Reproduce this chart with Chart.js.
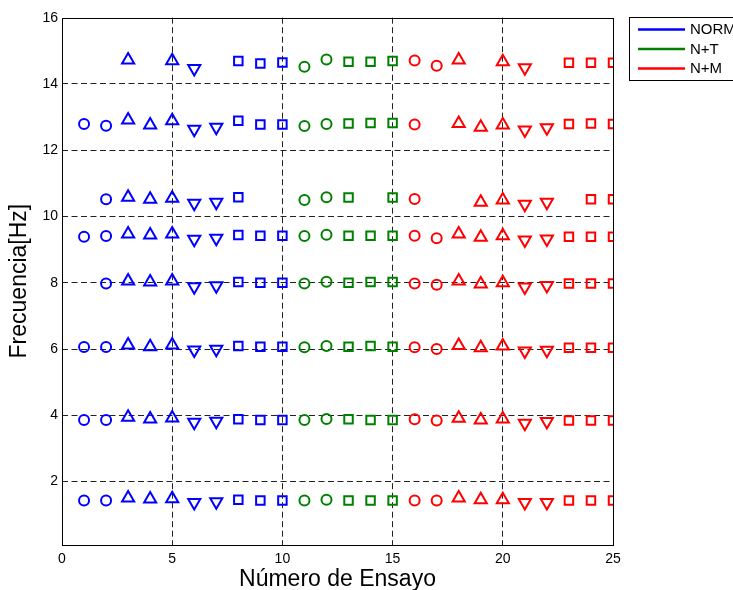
<!DOCTYPE html>
<html>
<head>
<meta charset="utf-8">
<script src="https://cdn.jsdelivr.net/npm/chart.js@4"></script>
<style>
  html, body { margin: 0; padding: 0; background: #fff; overflow: hidden; }
  #wrap { width: 733px; height: 590px; }
</style>
</head>
<body>
<div id="wrap"><canvas id="myChart" width="733" height="590"></canvas></div>
<script>
'use strict';

// numero de ensayo (eje x)
var ensayos = [1, 2, 3, 4, 5, 6, 7, 8, 9, 10, 11, 12, 13, 14, 15, 16, 17, 18, 19, 20, 21, 22, 23, 24, 25];

// series de la leyenda y a cual pertenece cada ensayo
var grupos = ['NORM', 'N+T', 'N+M'];
var grupoEnsayo = [0, 0, 0, 0, 0, 0, 0, 0, 0, 0, 1, 1, 1, 1, 1, 2, 2, 2, 2, 2, 2, 2, 2, 2, 2];

// marcador de cada ensayo
var marcadores = ['circle', 'circle', 'up', 'up', 'up', 'down', 'down', 'rect', 'rect', 'rect',
  'circle', 'circle', 'rect', 'rect', 'rect',
  'circle', 'circle', 'up', 'up', 'up', 'down', 'down', 'rect', 'rect', 'rect'];

// frecuencias [Hz] de cada modo, una por ensayo (null = no identificado)
var modo1 = [1.43, 1.43, 1.50, 1.47, 1.48, 1.37, 1.39, 1.45, 1.43, 1.43, 1.43, 1.45, 1.43, 1.43, 1.43, 1.43, 1.43, 1.50, 1.45, 1.45, 1.37, 1.37, 1.43, 1.43, 1.43];
var modo2 = [3.86, 3.86, 3.94, 3.89, 3.92, 3.79, 3.82, 3.88, 3.86, 3.86, 3.86, 3.89, 3.88, 3.86, 3.86, 3.88, 3.84, 3.91, 3.86, 3.89, 3.76, 3.81, 3.84, 3.84, 3.84];
var modo3 = [6.06, 6.06, 6.12, 6.07, 6.12, 5.97, 5.99, 6.09, 6.07, 6.07, 6.05, 6.09, 6.07, 6.09, 6.07, 6.05, 6.00, 6.11, 6.04, 6.09, 5.94, 5.96, 6.04, 6.04, 6.04];
var modo4 = [null, 7.98, 8.05, 8.02, 8.05, 7.88, 7.91, 8.02, 8.00, 8.00, 7.98, 8.03, 8.00, 8.02, 8.02, 7.98, 7.94, 8.05, 7.96, 8.00, 7.87, 7.92, 7.98, 7.98, 7.98];
var modo5 = [9.39, 9.41, 9.47, 9.44, 9.47, 9.31, 9.34, 9.44, 9.42, 9.42, 9.41, 9.45, 9.42, 9.42, 9.42, 9.42, 9.34, 9.47, 9.37, 9.42, 9.29, 9.32, 9.39, 9.39, 9.39];
var modo6 = [null, 10.52, 10.58, 10.52, 10.55, 10.40, 10.43, 10.58, null, null, 10.50, 10.58, 10.57, null, 10.57, 10.53, null, null, 10.43, 10.50, 10.37, 10.43, null, 10.52, 10.52];
var modo7 = [12.79, 12.74, 12.91, 12.76, 12.89, 12.63, 12.69, 12.89, 12.78, 12.78, 12.73, 12.79, 12.81, 12.82, 12.82, 12.78, null, 12.81, 12.69, 12.76, 12.61, 12.68, 12.79, 12.81, 12.79];
var modo8 = [null, null, 14.72, null, 14.70, 14.47, null, 14.69, 14.62, 14.65, 14.52, 14.74, 14.67, 14.67, 14.69, 14.71, 14.55, 14.72, null, 14.67, 14.49, null, 14.64, 14.64, 14.64];
var modos = [modo1, modo2, modo3, modo4, modo5, modo6, modo7, modo8];

// ticks de los ejes
var xTicks = [0, 5, 10, 15, 20, 25];
var yTicks = [2, 4, 6, 8, 10, 12, 14, 16];

var colores = ['#0000ff', '#008000', '#ff0000'];
var fuente = "'Liberation Sans', Arial, Helvetica, sans-serif";

// armar los puntos de cada grupo
function puntosDeGrupo(g) {
  var pts = [];
  for (var m = 0; m < modos.length; m++) {
    for (var i = 0; i < ensayos.length; i++) {
      if (grupoEnsayo[i] === g && modos[m][i] !== null) {
        pts.push({ x: ensayos[i], y: modos[m][i] });
      }
    }
  }
  return pts;
}

function marcador(ctx) {
  return marcadores[ensayos.indexOf(ctx.raw.x)];
}

var datasets = grupos.map(function (nombre, g) {
  return {
    label: nombre,
    data: puntosDeGrupo(g),
    borderColor: colores[g],
    backgroundColor: 'rgba(0,0,0,0)',
    pointBorderWidth: 2,
    pointStyle: function (ctx) {
      var m = marcador(ctx);
      return (m === 'up' || m === 'down') ? 'triangle' : m;
    },
    pointRotation: function (ctx) {
      return marcador(ctx) === 'down' ? 180 : 0;
    },
    pointRadius: function (ctx) {
      var m = marcador(ctx);
      if (m === 'circle') return 5;
      if (m === 'rect') return 6;
      return 7;
    },
    showLine: false
  };
});

// marco negro del area de ejes
var marcoPlugin = {
  id: 'marco',
  beforeDatasetsDraw: function (chart) {
    var a = chart.chartArea;
    var c = chart.ctx;
    c.save();
    c.strokeStyle = '#000';
    c.lineWidth = 1;
    c.strokeRect(Math.round(a.left) + 0.5, Math.round(a.top) + 0.5,
      Math.round(a.right - a.left), Math.round(a.bottom - a.top));
    c.restore();
  }
};

// leyenda estilo matlab, fuera del eje a la derecha
var leyendaPlugin = {
  id: 'leyenda',
  afterDraw: function (chart) {
    var c = chart.ctx;
    var x0 = 629.5, y0 = 17.5;
    c.save();
    c.fillStyle = '#fff';
    c.fillRect(x0, y0, 120, 63);
    c.strokeStyle = '#000';
    c.lineWidth = 1;
    c.strokeRect(x0, y0, 120, 63);
    c.font = '15px ' + fuente;
    c.textBaseline = 'middle';
    for (var g = 0; g < grupos.length; g++) {
      var y = 29.5 + g * 19.5;
      c.strokeStyle = colores[g];
      c.lineWidth = 2.5;
      c.beginPath();
      c.moveTo(638, y);
      c.lineTo(685, y);
      c.stroke();
      c.fillStyle = '#000';
      c.fillText(grupos[g], 690, y + 0.5);
    }
    c.restore();
  }
};

function colorGrid(max) {
  return function (ctx) {
    if (!ctx.tick) return 'rgba(0,0,0,0)';
    var v = ctx.tick.value;
    return (v <= 0 || v >= max) ? 'rgba(0,0,0,0)' : '#222';
  };
}

var ctx = document.getElementById('myChart').getContext('2d');
var chart = new Chart(ctx, {
  type: 'scatter',
  data: { datasets: datasets },
  plugins: [marcoPlugin, leyendaPlugin],
  options: {
    responsive: false,
    animation: false,
    devicePixelRatio: 1,
    layout: { padding: { top: 17.7, right: 120, left: 0, bottom: 0 } },
    plugins: {
      legend: { display: false },
      tooltip: { enabled: false }
    },
    scales: {
      x: {
        type: 'linear',
        min: 0,
        max: 25,
        afterBuildTicks: function (s) {
          s.ticks = xTicks.map(function (v) { return { value: v }; });
        },
        afterFit: function (s) { s.height = 45.5; },
        grid: { color: colorGrid(25), lineWidth: 1, drawTicks: false },
        border: { display: false, dash: [6, 3.5] },
        ticks: { color: '#000', font: { family: fuente, size: 14 }, padding: 6, maxRotation: 0 },
        title: {
          display: true,
          text: 'Número de Ensayo',
          color: '#000',
          font: { family: fuente, size: 23, lineHeight: 1 },
          padding: { top: 0, bottom: -1.5 }
        }
      },
      y: {
        type: 'linear',
        min: 0.1,
        max: 16,
        afterBuildTicks: function (s) {
          s.ticks = yTicks.map(function (v) { return { value: v }; });
        },
        afterFit: function (s) { s.width = 62; },
        grid: { color: colorGrid(16), lineWidth: 1, drawTicks: false },
        border: { display: false, dash: [6, 3.5] },
        ticks: { color: '#000', font: { family: fuente, size: 14 }, padding: 4 },
        title: {
          display: true,
          text: 'Frecuencia[Hz]',
          color: '#000',
          font: { family: fuente, size: 23, lineHeight: 1 },
          padding: { top: 8, bottom: 0 }
        }
      }
    }
  }
});
</script>
</body>
</html>
